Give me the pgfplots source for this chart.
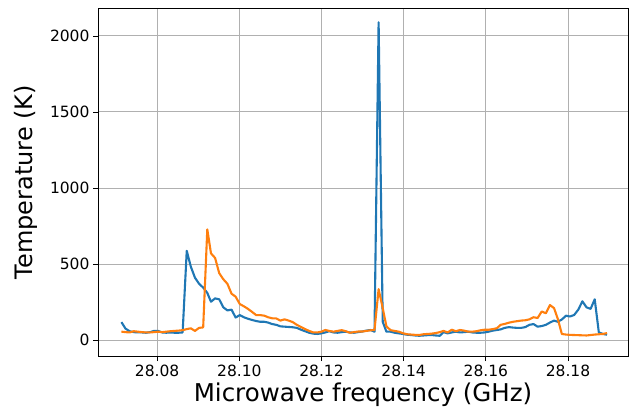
\documentclass[border=0pt]{standalone}
\usepackage{fontspec}
\setmainfont{DejaVu Sans}
\usepackage{pgfplots}
\pgfplotsset{compat=1.18}
\usepackage{pgfplotstable}

\definecolor{mplblue}{HTML}{1F77B4}
\definecolor{mplorange}{HTML}{FF7F0E}
\definecolor{mplgrid}{HTML}{B0B0B0}

% frequency (GHz), blue series, orange series
\pgfplotstableread{
f        b     o
28.0713  118   55
28.0723  75    52
28.0733  58    50
28.0743  52    58
28.0753  50    55
28.0763  50    52
28.0773  48    50
28.0783  52    50
28.0792  60    52
28.0802  60    55
28.0812  50    52
28.0822  48    55
28.0832  50    58
28.0842  48    60
28.0852  48    62
28.0862  50    65
28.0872  587   72
28.0882  482   77
28.0892  410   60
28.0902  370   80
28.0912  345   83
28.0922  310   728
28.0931  252   570
28.0941  274   540
28.0951  268   440
28.0961  215   400
28.0971  195   370
28.0981  200   305
28.0991  148   285
28.1001  164   237
28.1011  150   222
28.1021  140   205
28.1031  132   185
28.1041  125   164
28.1051  120   164
28.1061  120   160
28.1070  115   150
28.1080  105   143
28.1090  100   142
28.1100  90    128
28.1110  88    136
28.1120  86    128
28.1130  84    118
28.1140  80    100
28.1150  68    86
28.1160  58    72
28.1170  48    60
28.1180  42    50
28.1190  40    50
28.1200  44    55
28.1209  50    66
28.1219  58    60
28.1229  50    55
28.1239  48    60
28.1249  52    65
28.1259  55    58
28.1269  50    48
28.1279  48    52
28.1289  52    56
28.1299  56    56
28.1309  62    60
28.1319  66    64
28.1329  55    66
28.1339  2090  335
28.1349  120   210
28.1358  55    90
28.1368  55    65
28.1378  48    60
28.1388  44    55
28.1398  40    45
28.1408  35    38
28.1418  33    36
28.1428  30    34
28.1438  28    33
28.1448  30    38
28.1458  32    40
28.1468  33    42
28.1478  30    46
28.1488  28    52
28.1497  52    60
28.1507  44    50
28.1517  50    68
28.1527  55    58
28.1537  50    66
28.1547  52    62
28.1557  55    55
28.1567  50    55
28.1577  48    58
28.1587  48    64
28.1597  50    68
28.1607  55    68
28.1617  62    72
28.1627  66    78
28.1636  70    100
28.1646  80    106
28.1656  85    114
28.1666  82    120
28.1676  80    124
28.1686  80    128
28.1696  85    130
28.1706  100   136
28.1716  105   150
28.1726  88    145
28.1736  92    188
28.1746  100   176
28.1756  115   230
28.1766  128   210
28.1775  120   140
28.1785  135   40
28.1795  160   36
28.1805  155   34
28.1815  165   33
28.1825  200   32
28.1835  255   31
28.1845  215   30
28.1855  205   33
28.1865  268   36
28.1875  50    38
28.1885  40    40
28.1895  35    46
}\datatable

\begin{document}
\begin{tikzpicture}
\begin{axis}[
    name=main,
    at={(0,0)}, anchor=south west,
    scale only axis,
    width=530pt, height=348pt,
    xmin=28.0656, xmax=28.1946,
    ymin=-105, ymax=2184,
    xtick={28.08,28.10,28.12,28.14,28.16,28.18},
    ytick={0,500,1000,1500,2000},
    xticklabel style={/pgf/number format/.cd, fixed, fixed zerofill, precision=2},
    /pgf/number format/1000 sep={},
    /pgf/number format/assume math mode=true,
    tick label style={font=\fontsize{15.5}{18}\selectfont},
    xlabel={Microwave frequency (GHz)},
    ylabel={Temperature (K)},
    every axis x label/.style={at={(axis description cs:0.5,-0.132)}, anchor=base,
        font=\fontsize{24.5}{28}\selectfont},
    every axis y label/.style={at={(axis description cs:-0.124,0.5)}, anchor=base, rotate=90,
        font=\fontsize{24}{28}\selectfont},
    tick align=outside,
    xtick pos=left, ytick pos=left,
    major tick length=5pt,
    tick style={black, line width=0.9pt},
    axis line style={line width=0.9pt},
    grid=major,
    grid style={mplgrid, line width=1pt},
]
\addplot[mplblue, line width=2.1pt, line join=round] table[x=f, y=b] {\datatable};
\addplot[mplorange, line width=2.1pt, line join=round] table[x=f, y=o] {\datatable};
\end{axis}
\pgfresetboundingbox
\path[use as bounding box] (main.south west) ++(-98pt,-54pt) rectangle ++(629pt,410pt);
\end{tikzpicture}
\end{document}
